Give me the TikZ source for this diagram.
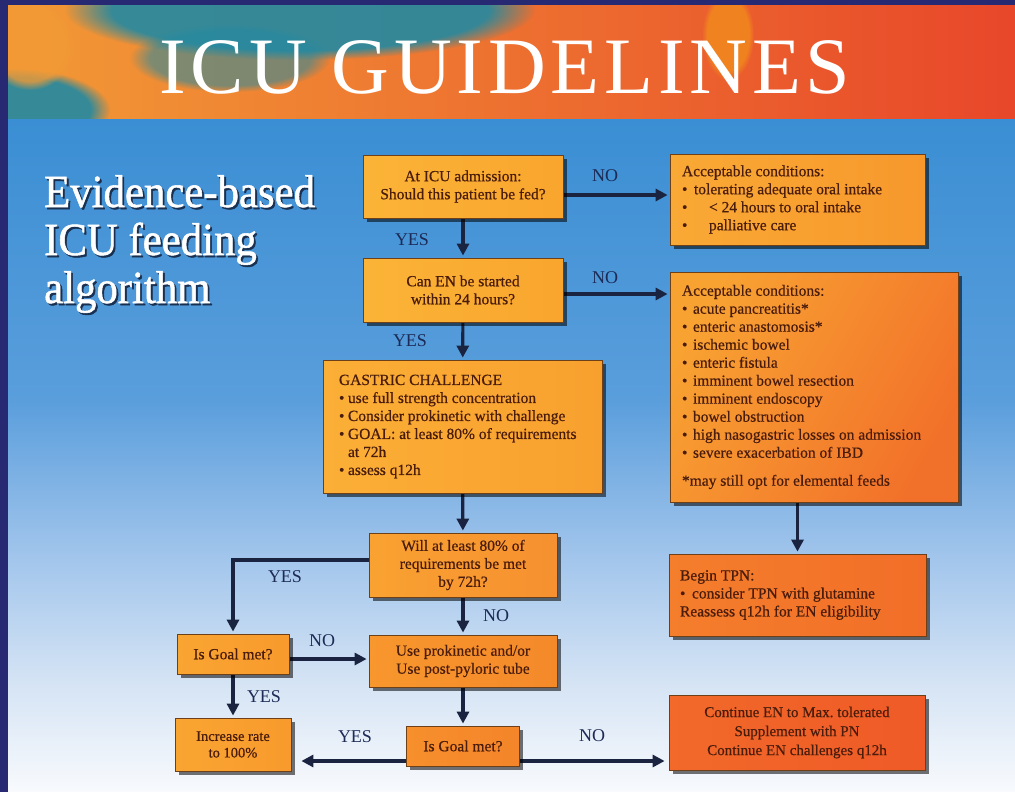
\documentclass[tikz,border=0pt]{standalone}
\usepackage{fontspec}
\setmainfont{Liberation Serif}
\newfontfamily\titlefont[LetterSpace=6]{Liberation Serif}
\newfontfamily\headfont[FakeBold=1.2]{Liberation Serif}
\newfontfamily\boxfont[FakeBold=0.5]{Liberation Serif}
\usetikzlibrary{arrows.meta,shadows,fadings}

\definecolor{navy}{HTML}{272A72}
\definecolor{bgA}{HTML}{3A8ED3}
\definecolor{bgB}{HTML}{5A9EDC}
\definecolor{bgC}{HTML}{A3C6EC}
\definecolor{bgD}{HTML}{D4E3F4}
\definecolor{bgE}{HTML}{F8FAFD}
\definecolor{hdA}{HTML}{F29A36}
\definecolor{hdB}{HTML}{EF7A2B}
\definecolor{hdC}{HTML}{E8472A}
\definecolor{tealc}{HTML}{2289A2}
\definecolor{txt}{HTML}{4A1C0C}
\definecolor{lblc}{HTML}{1C2A55}
\definecolor{arrc}{HTML}{1A2440}
\definecolor{boxline}{HTML}{6E4018}
\definecolor{shadowc}{HTML}{1A3050}

% white lettering with a dark offset shadow
\newcommand{\shtext}[1]{\makebox[0pt][l]{\hspace*{2pt}\raisebox{-2pt}{\textcolor{shadowc}{#1}}}#1}
% bullet with a fixed indent
\newcommand{\bl}[1][11pt]{\makebox[#1][l]{\textbullet}}
% natural word spacing inside aligned nodes
\newcommand{\natsp}{\frenchspacing\spaceskip=0pt\xspaceskip=0pt\relax}

\pgfdeclarelayer{bg}
\pgfdeclarelayer{links}
\pgfsetlayers{bg,links,main}

\begin{document}
\begin{tikzpicture}[x=1pt,y=-1pt,
  box/.style={draw=boxline, line width=0.8pt, inner ysep=0pt, text=txt,
    font=\boxfont\fontsize{15.5}{18}\selectfont, execute at begin node=\natsp,
    drop shadow={shadow xshift=3.5pt, shadow yshift=-3.5pt, opacity=0.55, fill=black}},
  cbox/.style={box, align=center, inner xsep=0pt},
  lbox/.style={box, align=left},
  arr/.style={draw=arrc, line width=3.2pt, -{Triangle[length=12pt,width=12pt]}, shorten >=2pt},
  lbl/.style={text=lblc, inner sep=0pt, font=\fontsize{18}{18}\selectfont},
  side/.style={text=white, inner sep=0pt, anchor=base west, xscale=0.93,
    font=\headfont\fontsize{46}{46}\selectfont}
]
\useasboundingbox (0,0) rectangle (1015,792);

\begin{pgfonlayer}{bg}
% sky-blue page background, fading to white at the bottom
\shade[top color=bgA, bottom color=bgB] (0,117) rectangle (1015,400);
\shade[top color=bgB, bottom color=bgC] (0,400) rectangle (1015,560);
\shade[top color=bgC, bottom color=bgD] (0,560) rectangle (1015,680);
\shade[top color=bgD, bottom color=bgE] (0,680) rectangle (1015,792);

% painted banner
\begin{scope}
  \clip (0,5) rectangle (1015,118);
  \shade[left color=hdA, middle color=hdB, right color=hdC] (0,5) rectangle (1015,118);
  \fill[tealc, opacity=0.9, path fading=circle with fuzzy edge 20 percent] (300,10) ellipse (235 and 50);
  \fill[tealc, opacity=0.55, path fading=circle with fuzzy edge 20 percent] (230,58) ellipse (100 and 34);
  \fill[tealc, opacity=0.9, path fading=circle with fuzzy edge 20 percent] (10,110) ellipse (100 and 42);
  \fill[hdA, opacity=0.8, path fading=circle with fuzzy edge 20 percent] (30,45) ellipse (45 and 45);
  \fill[yellow!60!orange, opacity=0.35, path fading=circle with fuzzy edge 20 percent] (728,35) ellipse (26 and 45);
\end{scope}

% frame strips
\fill[navy] (0,0) rectangle (1015,5);
\fill[navy] (0,0) rectangle (8,792);
\end{pgfonlayer}

\node[text=white, inner sep=0pt, anchor=base, font=\titlefont\fontsize{80}{80}\selectfont] (title) at (505,93) {ICU GUIDELINES};

% side heading
\node[side] (h1) at (44,207) {\shtext{Evidence-based}};
\node[side] (h2) at (44,255) {\shtext{ICU feeding}};
\node[side] (h3) at (44,303) {\shtext{algorithm}};

% flowchart boxes
\node[cbox, minimum width=200pt, minimum height=63pt,
  left color={rgb,255:red,251;green,180;blue,55}, right color={rgb,255:red,249;green,165;blue,46}]
  (adm) at (463,186.5) {At ICU admission:\\Should this patient be fed?};

\node[lbox, inner xsep=12pt, text width=231pt, minimum height=91pt,
  left color={rgb,255:red,249;green,169;blue,53}, right color={rgb,255:red,247;green,152;blue,44}]
  (r1) at (797.5,199.5) {Acceptable conditions:\\
  \bl[12pt]tolerating adequate oral intake\\
  \bl[27pt]< 24 hours to oral intake\\
  \bl[27pt]palliative care};

\node[cbox, minimum width=200pt, minimum height=64pt,
  left color={rgb,255:red,251;green,180;blue,55}, right color={rgb,255:red,249;green,165;blue,46}]
  (can) at (463,290) {Can EN be started\\within 24 hours?};

\node[lbox, inner xsep=12pt, text width=264pt, minimum height=230pt,
  left color={rgb,255:red,248;green,162;blue,50}, right color={rgb,255:red,242;green,113;blue,42}, shading angle=60]
  (r2) at (814,387) {Acceptable conditions:\\
  \bl acute pancreatitis*\\
  \bl enteric anastomosis*\\
  \bl ischemic bowel\\
  \bl enteric fistula\\
  \bl imminent bowel resection\\
  \bl imminent endoscopy\\
  \bl bowel obstruction\\
  \bl high nasogastric losses on admission\\
  \bl severe exacerbation of IBD\\[10pt]
  *may still opt for elemental feeds};

\node[lbox, inner xsep=16pt, text width=247pt, minimum height=133pt,
  left color={rgb,255:red,251;green,175;blue,54}, right color={rgb,255:red,248;green,160;blue,47}]
  (gas) at (462.5,426.5) {GASTRIC CHALLENGE\\
  \bl[9pt]use full strength concentration\\
  \bl[9pt]Consider prokinetic with challenge\\
  \bl[9pt]GOAL: at least 80\% of requirements\\
  \hspace*{9pt}at 72h\\
  \bl[9pt]assess q12h};

\node[cbox, minimum width=188pt, minimum height=64pt,
  left color={rgb,255:red,249;green,162;blue,49}, right color={rgb,255:red,246;green,144;blue,48}]
  (will) at (463,565) {Will at least 80\% of\\requirements be met\\by 72h?};

\node[lbox, inner xsep=11pt, text width=235pt, minimum height=82pt,
  left color={rgb,255:red,244;green,126;blue,44}, right color={rgb,255:red,242;green,110;blue,40}]
  (tpn) at (797.5,595) {Begin TPN:\\
  \bl[12pt]consider TPN with glutamine\\
  Reassess q12h for EN eligibility};

\node[cbox, minimum width=112pt, minimum height=40pt,
  left color={rgb,255:red,249;green,165;blue,50}, right color={rgb,255:red,248;green,154;blue,45}]
  (goalL) at (233,654) {Is Goal met?};

\node[cbox, minimum width=188pt, minimum height=52pt,
  left color={rgb,255:red,248;green,151;blue,45}, right color={rgb,255:red,244;green,137;blue,42}]
  (pro) at (463,661) {Use prokinetic and/or\\Use post-pyloric tube};

\node[cbox, minimum width=116pt, minimum height=53pt, font=\boxfont\fontsize{14.5}{16.5}\selectfont,
  left color={rgb,255:red,249;green,165;blue,50}, right color={rgb,255:red,248;green,154;blue,45}]
  (inc) at (233,744.5) {Increase rate\\to 100\%};

\node[cbox, minimum width=113pt, minimum height=40pt,
  left color={rgb,255:red,247;green,143;blue,44}, right color={rgb,255:red,244;green,133;blue,42}]
  (goalB) at (463,746) {Is Goal met?};

\node[cbox, minimum width=256pt, minimum height=75pt, font=\boxfont\fontsize{15}{19}\selectfont,
  left color={rgb,255:red,242;green,105;blue,42}, right color={rgb,255:red,239;green,90;blue,39}]
  (cont) at (797,732.5) {Continue EN to Max. tolerated\\Supplement with PN\\Continue EN challenges q12h};

% connectors, kept beneath the boxes
\begin{pgfonlayer}{links}
\draw[arr] (adm.east |- 0,195) -- (r1.west |- 0,195);
\draw[arr] (adm) -- (can);
\draw[arr] (can.east |- 0,294) -- (r2.west |- 0,294);
\draw[arr] (can) -- (gas);
\draw[arr] (gas) -- (will);
\draw[arr] (will) -- (pro);
\draw[arr] (pro) -- (goalB);
\draw[arr] ([yshift=5pt]will.west) -| (goalL.north);
\coordinate (gLe) at ([yshift=-5pt]goalL.east);
\draw[arr] (gLe) -- (gLe -| pro.west);
\draw[arr] (goalL) -- (inc);
\coordinate (gBw) at ([yshift=-15pt]goalB.west);
\coordinate (gBe) at ([yshift=-15pt]goalB.east);
\draw[arr, shorten >=10pt] (gBw) -- (gBw -| inc.east);
\draw[arr, shorten >=4pt] (gBe) -- (gBe -| cont.west);
\draw[arr] (tpn.north |- r2.south) -- (tpn.north);
\end{pgfonlayer}

% branch labels
\node[lbl] (no1) at (605,176) {NO};
\node[lbl] (no2) at (605,278) {NO};
\node[lbl] (yes1) at (412,240) {YES};
\node[lbl] (yes2) at (410,341) {YES};
\node[lbl] (yes3) at (285,577) {YES};
\node[lbl] (no3) at (496,616) {NO};
\node[lbl] (no4) at (322,641) {NO};
\node[lbl] (yes4) at (264,697) {YES};
\node[lbl] (yes5) at (355,737) {YES};
\node[lbl] (no5) at (592,736) {NO};
\end{tikzpicture}
\end{document}
